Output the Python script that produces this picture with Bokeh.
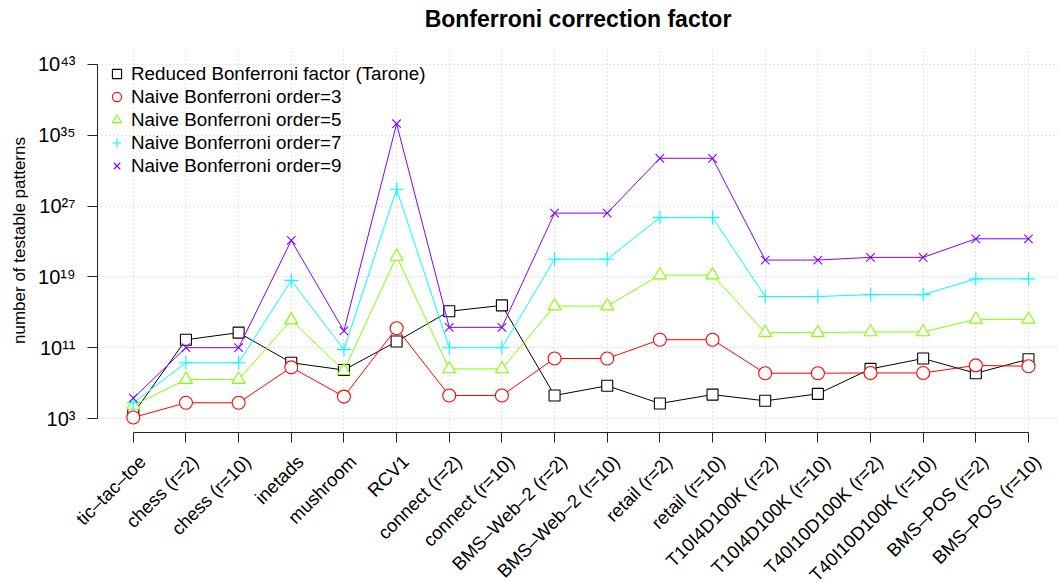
import math
from bokeh.plotting import figure
from bokeh.layouts import column
from bokeh.models import FixedTicker, Range1d
from bokeh.core.properties import value
from bokeh.embed import file_html
from bokeh.resources import INLINE

title_text = "Bonferroni correction factor"
datasets = ["tic–tac–toe", "chess (r=2)", "chess (r=10)", "inetads", "mushroom", "RCV1",
            "connect (r=2)", "connect (r=10)", "BMS–Web–2 (r=2)", "BMS–Web–2 (r=10)",
            "retail (r=2)", "retail (r=10)", "T10I4D100K (r=2)", "T10I4D100K (r=10)",
            "T40I10D100K (r=2)", "T40I10D100K (r=10)", "BMS–POS (r=2)", "BMS–POS (r=10)"]
x_pos = list(range(1, len(datasets) + 1))

tarone = [3.6e3, 8e11, 5e12, 2e9, 3e8, 5e11, 1.3e15, 6e15, 4e5, 5e6,
          5e4, 5e5, 1e5, 6e5, 4e8, 6e9, 1.3e8, 5e9]
naive3 = [1.3e3, 6e4, 6e4, 6e8, 3e5, 1.6e13, 4e5, 4e5, 6e9, 6e9,
          8e11, 8e11, 1.3e8, 1.3e8, 1.4e8, 1.4e8, 1e9, 8e8]
naive5 = [3e4, 2.5e7, 2.5e7, 1.3e14, 2.5e8, 2e21, 4e8, 4e8, 5e15, 5e15,
          1.6e19, 1.6e19, 5e12, 5e12, 6e12, 6e12, 1.6e14, 1.6e14]
naive7 = [6e4, 2e9, 2e9, 4e18, 6e10, 8e28, 1e11, 1e11, 1e21, 1e21,
          5e25, 5e25, 6e16, 6e16, 1e17, 1e17, 6e18, 6e18]
naive9 = [2e5, 1e11, 1e11, 1.3e23, 8e12, 2e36, 2e13, 2e13, 1.6e26, 1.6e26,
          2.5e32, 2.5e32, 8e20, 8e20, 1.6e21, 1.6e21, 2e23, 2e23]

series_labels = ["Reduced Bonferroni factor (Tarone)", "Naive Bonferroni order=3",
                 "Naive Bonferroni order=5", "Naive Bonferroni order=7",
                 "Naive Bonferroni order=9"]
series_values = [tarone, naive3, naive5, naive7, naive9]
series_colors = ["#000000", "#FF0000", "#80FF00", "#00FFFF", "#8000FF"]
series_markers = ["square", "circle", "triangle", "cross", "x"]
series_sizes = [11, 13, 13, 14, 12]

y_ticks = [1e3, 1e11, 1e19, 1e27, 1e35, 1e43]
y_tick_labels = ["10³", "10¹¹", "10¹⁹", "10²⁷", "10³⁵", "10⁴³"]

FONT = "Liberation Sans"
W, H = 1058, 583
LEFT = 97
TOP_H = 48
MAIN_H = 402
X_START, X_END = 0.32, 18.57
Y_START, Y_END = 10 ** 1.42, 10 ** 44.8

# ---- title strip ------------------------------------------------------------
p0 = figure(width=W, height=TOP_H, x_range=Range1d(0, W), y_range=Range1d(0, TOP_H),
            x_axis_location=None, y_axis_location=None,
            output_backend="svg", toolbar_location=None,
            min_border_left=0, min_border_right=0, min_border_top=0, min_border_bottom=0)
p0.frame_align = False
p0.outline_line_color = None
p0.xgrid.visible = False
p0.ygrid.visible = False
p0.text(x=[(LEFT + W) / 2], y=[TOP_H - 18], text=[title_text],
        text_align="center", text_baseline="middle",
        text_font=value(FONT), text_font_size="23px", text_font_style="bold",
        text_color="black")

# ---- main plot --------------------------------------------------------------
p = figure(width=W, height=MAIN_H, y_axis_type="log",
           x_range=(X_START, X_END), y_range=(Y_START, Y_END),
           output_backend="svg", toolbar_location=None,
           min_border_left=LEFT, min_border_right=0, min_border_top=0, min_border_bottom=18)
p.outline_line_color = None
p.background_fill_color = "white"

for g in (p.xgrid, p.ygrid):
    g.grid_line_color = "#C8C8C8"
    g.grid_line_dash = "1 3"
    g.grid_line_width = 1
p.xgrid.ticker = FixedTicker(ticks=x_pos)
p.ygrid.ticker = FixedTicker(ticks=y_ticks)

xa = p.xaxis[0]
xa.ticker = FixedTicker(ticks=x_pos)
xa.major_label_overrides = {i: "" for i in x_pos}
xa.major_label_text_font_size = "1px"
xa.major_label_standoff = 0
xa.bounds = (x_pos[0], x_pos[-1])

ya = p.yaxis[0]
ya.ticker = FixedTicker(ticks=y_ticks)
ya.major_label_overrides = {t: lab for t, lab in zip(y_ticks, y_tick_labels)}
ya.bounds = (y_ticks[0], y_ticks[-1])
ya.axis_label = "number of testable patterns"
ya.major_label_orientation = "horizontal"
ya.axis_label_text_font = FONT
ya.axis_label_text_font_size = "17px"
ya.axis_label_text_font_style = "normal"
ya.axis_label_text_color = "black"
ya.major_label_text_font = FONT
ya.major_label_text_font_size = "20px"
ya.major_label_text_color = "black"
ya.major_label_standoff = 12
ya.axis_label_standoff = 6

for ax in (xa, ya):
    ax.axis_line_color = "#222222"
    ax.major_tick_line_color = "#222222"
    ax.minor_tick_line_color = None
    ax.major_tick_out = 10
    ax.major_tick_in = 0

for lab, vals, col, mk, sz in zip(series_labels, series_values, series_colors,
                                  series_markers, series_sizes):
    p.line(x_pos, vals, line_color=col, line_width=1)
    p.scatter(x_pos, vals, marker=mk, size=sz, line_color=col, line_width=1.1,
              fill_color="white", legend_label=lab)

lg = p.legend[0]
lg.location = (7, 255)
lg.background_fill_alpha = 0
lg.border_line_color = None
lg.padding = 0
lg.margin = 0
lg.spacing = 0
lg.glyph_width = 25
lg.glyph_height = 23
lg.label_height = 23
lg.label_standoff = 2
lg.label_text_font = FONT
lg.label_text_font_size = "18.8px"
lg.label_text_color = "black"

# ---- strip with the rotated category labels (R style srt=45) ----------------
px_per_unit = (W - LEFT) / (X_END - X_START)
p2 = figure(width=W, height=H - TOP_H - MAIN_H,
            x_range=Range1d(X_START - LEFT / px_per_unit, X_END), y_range=Range1d(0, 1),
            x_axis_location=None, y_axis_location=None,
            output_backend="svg", toolbar_location=None,
            min_border_left=0, min_border_right=0, min_border_top=0, min_border_bottom=0)
p2.frame_align = False
p2.outline_line_color = None
p2.xgrid.visible = False
p2.ygrid.visible = False
p2.text(x=x_pos, y=[1] * len(x_pos), text=datasets, angle=math.pi / 4,
        text_align="right", text_baseline="middle", x_offset=9, y_offset=8,
        text_font=value(FONT), text_font_size="18.5px", text_color="black")

layout = column(p0, p, p2, spacing=0)
open("out.html", "w").write(file_html(layout, INLINE))
